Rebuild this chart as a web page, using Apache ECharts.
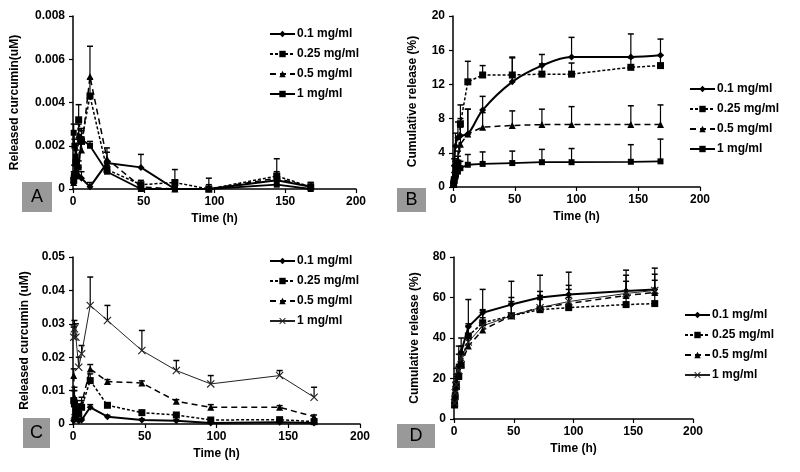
<!DOCTYPE html>
<html>
<head>
<meta charset="utf-8">
<script src="https://cdn.jsdelivr.net/npm/echarts@6/dist/echarts.min.js"></script>
<style>
  html, body { margin: 0; padding: 0; background: #fff; }
  #chart { width: 800px; height: 472px; }
</style>
</head>
<body>
<div id="chart"></div>
<script>
// sampling times (h), shared by all panels
const times = [0.5, 1, 2, 4, 6, 12, 24, 48, 72, 96, 144, 168]
const seriesNames = ["0.1 mg/ml", "0.25 mg/ml", "0.5 mg/ml", "1 mg/ml"]
const xTicks = [0, 50, 100, 150, 200]

// A: released curcumin (uM)
const A_01 = [0.0003, 0.0005, 0.0008, 0.0006, 0.0005, 0.0001, 0.0012, 0.001, 0.0, 0.0, 0.0004, 0.0001]
const A_01e = [0.0002, 0.0003, 0.0005, 0.0004, 0.0003, 0.0002, 0.0005, 0.0006, 0.0, 0.0, 0.0003, 0.0001]
const A_025 = [0.0004, 0.0006, 0.0012, 0.0032, 0.0022, 0.0043, 0.0009, 0.0002, 0.0003, 0.0, 0.0006, 0.0001]
const A_025e = [0.0004, 0.0005, 0.0008, 0.0007, 0.0006, 0.0008, 0.0003, 0.0002, 0.0006, 0.0005, 0.0008, 0.0002]
const A_05 = [0.0003, 0.0007, 0.0015, 0.0025, 0.0018, 0.0052, 0.0014, 0.0001, 0.0, 0.0, 0.0005, 0.0001]
const A_05e = [0.0003, 0.0004, 0.0006, 0.0005, 0.0006, 0.0014, 0.0005, 0.0001, 0.0001, 0.0002, 0.0003, 0.0002]
const A_1 = [0.0026, 0.002, 0.0015, 0.001, 0.0023, 0.002, 0.0008, 0.0, 0.0, 0.0, 0.0002, 0.0]
const A_1e = [0.0004, 0.0003, 0.0003, 0.0003, 0.0004, 0.0002, 0.0003, 0.0, 0.0, 0.0, 0.0002, 0.0001]

// B: cumulative release (%)
const B_01 = [0.5, 2.5, 4.8, 5.8, 6.0, 6.2, 9.0, 12.3, 14.2, 15.2, 15.2, 15.4]
const B_01e = [0.3, 0.8, 1.5, 1.8, 2.0, 2.9, 1.6, 2.9, 1.3, 2.3, 2.7, 1.9]
const B_025 = [0.3, 0.8, 1.5, 2.8, 7.4, 12.3, 13.1, 13.1, 13.2, 13.2, 14.0, 14.2]
const B_025e = [0.2, 0.4, 0.6, 0.8, 2.2, 2.4, 1.1, 2.0, 1.2, 1.3, 1.1, 1.2]
const B_05 = [0.5, 1.2, 2.2, 3.2, 5.0, 6.2, 7.0, 7.2, 7.3, 7.3, 7.3, 7.3]
const B_05e = [0.3, 0.5, 0.8, 1.0, 2.0, 2.9, 1.7, 1.7, 1.8, 2.1, 2.2, 2.3]
const B_1 = [0.3, 0.7, 1.2, 1.8, 2.2, 2.6, 2.7, 2.8, 2.9, 2.9, 2.95, 3.0]
const B_1e = [0.2, 0.3, 0.4, 0.6, 0.8, 1.2, 1.4, 1.4, 1.5, 1.6, 2.0, 2.6]

// C: released curcumin (uM)
const C_01 = [0.001, 0.002, 0.0015, 0.001, 0.0012, 0.005, 0.0022, 0.0012, 0.001, 0.0003, 0.0005, 0.0003]
const C_01e = [0.0005, 0.0008, 0.0005, 0.0005, 0.0005, 0.0008, 0.0004, 0.0003, 0.0003, 0.0002, 0.0002, 0.0002]
const C_025 = [0.007, 0.006, 0.004, 0.003, 0.005, 0.013, 0.0056, 0.0034, 0.0027, 0.0012, 0.0013, 0.0007]
const C_025e = [0.003, 0.004, 0.002, 0.002, 0.002, 0.002, 0.0005, 0.0004, 0.0004, 0.0003, 0.0003, 0.0003]
const C_05 = [0.0145, 0.008, 0.005, 0.004, 0.006, 0.0165, 0.0127, 0.0123, 0.0068, 0.005, 0.005, 0.0022]
const C_05e = [0.002, 0.003, 0.002, 0.002, 0.002, 0.0013, 0.0006, 0.0006, 0.0005, 0.0008, 0.0005, 0.0005]
const C_1 = [0.026, 0.0285, 0.026, 0.017, 0.021, 0.0355, 0.031, 0.022, 0.016, 0.012, 0.0145, 0.008]
const C_1e = [0.003, 0.0025, 0.004, 0.003, 0.0025, 0.0085, 0.0045, 0.006, 0.003, 0.0025, 0.0015, 0.003]

// D: cumulative release (%)
const D_01 = [8, 13, 18, 26, 33, 45.5, 52.5, 56.5, 60, 61.5, 63.2, 64]
const D_01e = [3, 5, 7, 10, 7, 13.5, 11.5, 11.5, 11, 11, 10.3, 10.5]
const D_025 = [7, 11, 16, 21, 26.5, 41, 47.5, 51, 54, 55, 56.5, 57]
const D_025e = [2, 3, 4, 5, 6, 6, 6, 6, 5, 5, 5, 5]
const D_05 = [7, 12, 17, 22, 27, 36, 44, 51, 55, 57, 61, 62.5]
const D_05e = [2, 3, 4, 5, 5, 6, 6, 7, 6, 7, 7, 6]
const D_1 = [8, 13, 17, 24, 30, 38, 46, 51, 55, 58, 62, 63.5]
const D_1e = [2, 3, 5, 8, 6, 8, 8, 9, 8, 8, 9, 8]

const XMARK = "path://M0,1L1,0L5,4L9,0L10,1L6,5L10,9L9,10L5,6L1,10L0,9L4,5Z"
const FONT = "Liberation Sans"

const panels = [
  { key: "A", vals: [A_01, A_025, A_05, A_1], errs: [A_01e, A_025e, A_05e, A_1e], xMark: false, smooth: false },
  { key: "B", vals: [B_01, B_025, B_05, B_1], errs: [B_01e, B_025e, B_05e, B_1e], xMark: false, smooth: true },
  { key: "C", vals: [C_01, C_025, C_05, C_1], errs: [C_01e, C_025e, C_05e, C_1e], xMark: true, smooth: false },
  { key: "D", vals: [D_01, D_025, D_05, D_1], errs: [D_01e, D_025e, D_05e, D_1e], xMark: true, smooth: false }
]

const lineLook = (k, xMark) => {
  if (k === 0) return { symbol: "diamond", symbolSize: 7, lineStyle: { width: 2, type: "solid", color: "#000" } }
  if (k === 1) return { symbol: "rect", symbolSize: 7, lineStyle: { width: 1.5, type: [3, 2], color: "#000" } }
  if (k === 2) return { symbol: "triangle", symbolSize: 7, lineStyle: { width: 1.5, type: [6, 4], color: "#000" } }
  if (xMark) return { symbol: XMARK, symbolSize: 8, lineStyle: { width: 1, type: "solid", color: "#222" } }
  return { symbol: "rect", symbolSize: 6, lineStyle: { width: 1.8, type: "solid", color: "#000" } }
}

const series = []
panels.forEach((p, pi) => {
  p.vals.forEach((vals, k) => {
    // upper error bars
    series.push({
      type: "custom",
      xAxisIndex: pi,
      yAxisIndex: pi,
      silent: true,
      z: 1,
      data: times.map((t, i) => [t, vals[i], vals[i] + p.errs[k][i]]),
      renderItem: (params, api) => {
        const a = api.coord([api.value(0), api.value(1)])
        const b = api.coord([api.value(0), api.value(2)])
        return {
          type: "group",
          children: [
            { type: "line", shape: { x1: a[0], y1: a[1], x2: b[0], y2: b[1] }, style: { stroke: "#000", lineWidth: 1.2 } },
            { type: "line", shape: { x1: b[0] - 3, y1: b[1], x2: b[0] + 3, y2: b[1] }, style: { stroke: "#000", lineWidth: 1.5 } }
          ]
        }
      }
    })
    const look = lineLook(k, p.xMark)
    series.push({
      type: "line",
      name: p.key + "|" + seriesNames[k],
      xAxisIndex: pi,
      yAxisIndex: pi,
      z: 3,
      smooth: p.smooth && k === 0 ? 0.35 : false,
      symbol: look.symbol,
      symbolSize: look.symbolSize,
      showAllSymbol: true,
      itemStyle: { color: look.lineStyle.color },
      lineStyle: look.lineStyle,
      data: times.map((t, i) => [t, vals[i]])
    })
  })
})

const grids = [
  { left: 73, right: 444, top: 16, bottom: 283 },
  { left: 453, right: 100, top: 16, bottom: 285 },
  { left: 73, right: 440, top: 257, bottom: 48 },
  { left: 454, right: 107, top: 257, bottom: 53 }
]
const yCfg = [
  { max: 0.008, interval: 0.002, name: "Released curcumin(uM)", gap: 52 },
  { max: 20, interval: 4, name: "Cumulative release (%)", gap: 34 },
  { max: 0.05, interval: 0.01, name: "Released curcumin (uM)", gap: 42 },
  { max: 80, interval: 20, name: "Cumulative release (%)", gap: 33 }
]
const legendPos = [
  { left: 269, top: 28 },
  { left: 689, top: 83 },
  { left: 269, top: 255 },
  { left: 684, top: 309 }
]
const boxes = [
  { x: 22, y: 182, w: 30, h: 30, t: "A" },
  { x: 397, y: 188, w: 29, h: 24, t: "B" },
  { x: 23, y: 418, w: 27, h: 30, t: "C" },
  { x: 397, y: 424, w: 38, h: 24, t: "D" }
]

const axisLine = { show: true, lineStyle: { color: "#000", width: 1.5 } }
const axisTick = { show: true, inside: false, length: 4, lineStyle: { color: "#000", width: 1.2 } }
const labelStyle = { color: "#000", fontFamily: FONT, fontWeight: "bold", fontSize: 12 }

const chart = echarts.init(document.getElementById("chart"))
chart.setOption({
  animation: false,
  backgroundColor: "#fff",
  grid: grids,
  xAxis: grids.map((g, i) => ({
    type: "value",
    gridIndex: i,
    min: xTicks[0],
    max: xTicks[xTicks.length - 1],
    interval: 50,
    name: "Time (h)",
    nameLocation: "middle",
    nameGap: 24,
    nameTextStyle: labelStyle,
    axisLine: axisLine,
    axisTick: axisTick,
    axisLabel: Object.assign({ margin: 7 }, labelStyle),
    splitLine: { show: false }
  })),
  yAxis: yCfg.map((c, i) => ({
    type: "value",
    gridIndex: i,
    min: 0,
    max: c.max,
    interval: c.interval,
    name: c.name,
    nameLocation: "middle",
    nameGap: c.gap,
    nameTextStyle: labelStyle,
    axisLine: axisLine,
    axisTick: axisTick,
    axisLabel: Object.assign({ margin: 8 }, labelStyle),
    splitLine: { show: false }
  })),
  legend: panels.map((p, i) => ({
    orient: "vertical",
    left: legendPos[i].left,
    top: legendPos[i].top,
    itemWidth: 25,
    itemHeight: 8,
    itemGap: 8,
    padding: 0,
    selectedMode: false,
    textStyle: { color: "#000", fontFamily: FONT, fontWeight: "bold", fontSize: 12, padding: [0, 0, 0, -3] },
    formatter: name => name.split("|")[1],
    data: seriesNames.map(n => p.key + "|" + n)
  })),
  graphic: boxes.map(b => ({
    type: "group",
    children: [
      { type: "rect", shape: { x: b.x, y: b.y, width: b.w, height: b.h }, style: { fill: "#999" } },
      {
        type: "text",
        x: b.x + b.w / 2,
        y: b.y + b.h / 2,
        style: { text: b.t, fill: "#000", font: "18px " + FONT, align: "center", verticalAlign: "middle" }
      }
    ]
  })),
  series: series
})
</script>
</body>
</html>
